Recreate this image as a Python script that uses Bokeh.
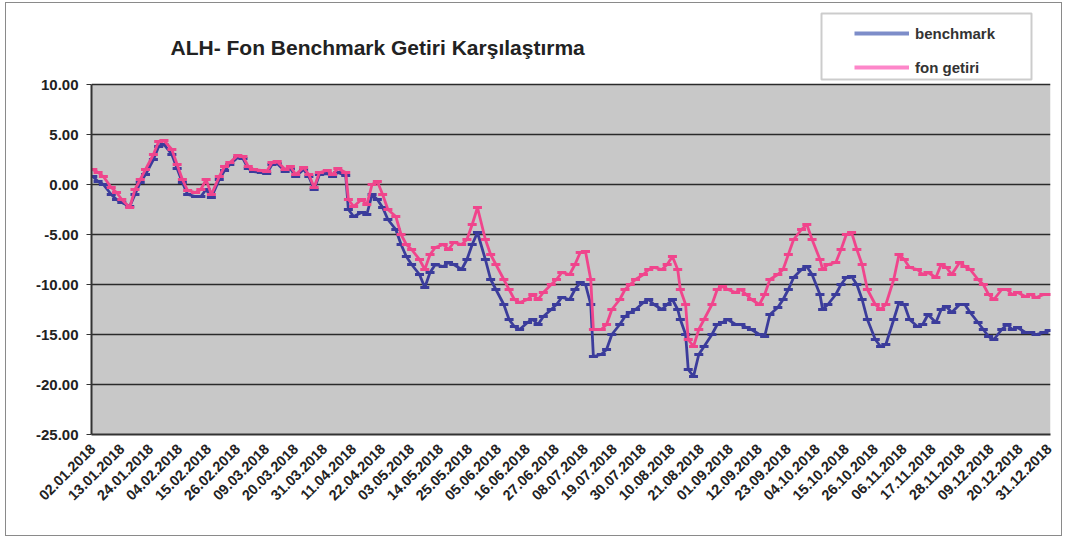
import pandas as pd
from bokeh.plotting import figure
from bokeh.models import (Range1d, FixedTicker, NumeralTickFormatter, DatetimeTickFormatter,
                          Legend, LegendItem, BoxAnnotation, ColumnDataSource, Label)
from bokeh.embed import file_html
from bokeh.resources import INLINE
import math

title_text = "ALH- Fon Benchmark Getiri Karşılaştırma"
series_names = ["benchmark", "fon getiri"]

dates = [
    "02.01.2018", "04.01.2018", "06.01.2018", "09.01.2018", "11.01.2018", "13.01.2018", "16.01.2018",
    "18.01.2018", "20.01.2018", "22.01.2018", "25.01.2018", "27.01.2018", "29.01.2018", "01.02.2018",
    "03.02.2018", "05.02.2018", "07.02.2018", "10.02.2018", "12.02.2018", "14.02.2018", "16.02.2018",
    "19.02.2018", "21.02.2018", "23.02.2018", "26.02.2018", "28.02.2018", "02.03.2018", "04.03.2018",
    "07.03.2018", "09.03.2018", "11.03.2018", "13.03.2018", "16.03.2018", "18.03.2018", "20.03.2018",
    "23.03.2018", "25.03.2018", "27.03.2018", "29.03.2018", "01.04.2018", "03.04.2018", "05.04.2018",
    "08.04.2018", "09.04.2018", "11.04.2018", "14.04.2018", "16.04.2018", "18.04.2018", "20.04.2018",
    "22.04.2018", "24.04.2018", "27.04.2018", "29.04.2018", "01.05.2018", "03.05.2018", "06.05.2018",
    "08.05.2018", "10.05.2018", "12.05.2018", "15.05.2018", "17.05.2018", "19.05.2018", "22.05.2018",
    "24.05.2018", "26.05.2018", "28.05.2018", "31.05.2018", "02.06.2018", "04.06.2018", "07.06.2018",
    "09.06.2018", "11.06.2018", "13.06.2018", "16.06.2018", "18.06.2018", "20.06.2018", "22.06.2018",
    "25.06.2018", "27.06.2018", "29.06.2018", "02.07.2018", "04.07.2018", "06.07.2018", "08.07.2018",
    "10.07.2018", "11.07.2018", "14.07.2018", "16.07.2018", "18.07.2018", "21.07.2018", "23.07.2018",
    "25.07.2018", "27.07.2018", "30.07.2018", "01.08.2018", "03.08.2018", "06.08.2018", "08.08.2018",
    "10.08.2018", "12.08.2018", "13.08.2018", "15.08.2018", "16.08.2018", "18.08.2018", "20.08.2018",
    "22.08.2018", "25.08.2018", "27.08.2018", "29.08.2018", "31.08.2018", "03.09.2018", "05.09.2018",
    "07.09.2018", "09.09.2018", "12.09.2018", "14.09.2018", "16.09.2018", "19.09.2018", "21.09.2018",
    "23.09.2018", "25.09.2018", "28.09.2018", "30.09.2018", "02.10.2018", "05.10.2018", "06.10.2018",
    "08.10.2018", "11.10.2018", "13.10.2018", "15.10.2018", "17.10.2018", "19.10.2018", "21.10.2018",
    "23.10.2018", "26.10.2018", "28.10.2018", "30.10.2018", "02.11.2018", "04.11.2018", "06.11.2018",
    "08.11.2018", "11.11.2018", "13.11.2018", "15.11.2018", "18.11.2018", "20.11.2018", "22.11.2018",
    "24.11.2018", "27.11.2018", "29.11.2018", "01.12.2018", "04.12.2018", "06.12.2018", "08.12.2018",
    "10.12.2018", "13.12.2018", "15.12.2018", "17.12.2018", "19.12.2018", "22.12.2018", "24.12.2018",
    "26.12.2018", "29.12.2018", "31.12.2018",
]

fon_getiri = [
    1.5, 1.2, 0.8, -0.3, -0.8, -1.5, -2.3,
    -0.5, 0.5, 1.5, 3.0, 4.3, 4.4, 3.5,
    2.0, 0.5, -0.6, -0.8, -0.5, 0.5, -1.0,
    0.8, 1.8, 2.2, 2.9, 2.8, 1.8, 1.5,
    1.4, 1.3, 2.2, 2.3, 1.5, 1.8, 1.0,
    1.7, 1.0, -0.3, 1.2, 1.4, 1.0, 1.6,
    1.2, -1.5, -2.2, -1.5, -2.0, 0.0, 0.3,
    -1.0, -2.5, -3.2, -5.0, -6.0, -6.5, -7.5,
    -8.5, -7.0, -6.3, -6.0, -6.5, -5.8, -6.0,
    -5.5, -4.0, -2.3, -5.5, -7.0, -8.0, -9.5,
    -10.5, -11.5, -11.8, -11.5, -11.0, -11.5, -10.8,
    -10.0, -9.5, -8.8, -9.0, -8.0, -6.8, -6.7,
    -9.5, -14.5, -14.5, -14.0, -12.5, -11.5, -10.5,
    -10.0, -9.5, -9.0, -8.5, -8.3, -8.5, -8.0,
    -7.2, -8.5, -10.5, -12.0, -15.5, -16.2, -14.5,
    -13.5, -12.0, -10.5, -10.2, -10.5, -10.8, -10.5,
    -11.0, -11.5, -12.0, -11.0, -9.5, -9.0, -8.5,
    -7.0, -5.5, -4.5, -4.0, -5.5, -7.5, -8.5,
    -8.0, -7.8, -6.5, -5.0, -4.8, -6.5, -8.0,
    -10.5, -12.0, -12.5, -12.0, -9.5, -7.0, -7.5,
    -8.3, -8.5, -9.0, -8.8, -9.3, -8.0, -8.3,
    -9.0, -7.8, -8.2, -8.5, -9.5, -10.0, -11.0,
    -11.5, -10.5, -10.5, -11.0, -10.8, -11.2, -11.0,
    -11.3, -11.0, -11.0,
]

benchmark = [
    0.8, 0.3, 0.0, -1.0, -1.5, -1.8, -2.2,
    -1.0, 0.2, 1.0, 2.5, 3.8, 4.0, 3.0,
    1.6, 0.2, -1.0, -1.2, -1.2, -0.5, -1.3,
    0.5, 1.4, 2.0, 2.7, 2.6, 1.6, 1.3,
    1.2, 1.1, 2.0, 2.1, 1.3, 1.6, 0.8,
    1.5, 0.8, -0.5, 1.0, 1.1, 0.8, 1.2,
    0.9, -2.5, -3.2, -2.8, -3.0, -1.0, -1.5,
    -2.3, -3.5, -4.5, -6.0, -7.2, -8.0, -9.0,
    -10.3, -8.8, -8.0, -8.2, -7.8, -8.0, -8.5,
    -7.5, -6.0, -4.8, -7.5, -9.5, -10.5, -12.0,
    -13.5, -14.2, -14.5, -13.8, -13.5, -14.0, -13.2,
    -12.5, -12.0, -11.3, -11.5, -10.5, -9.8, -10.0,
    -12.0, -17.2, -17.0, -16.5, -15.0, -14.0, -13.2,
    -12.8, -12.5, -11.8, -11.5, -12.0, -12.5, -12.0,
    -11.5, -12.5, -13.5, -15.0, -18.5, -19.2, -17.0,
    -16.2, -15.0, -14.0, -13.8, -13.5, -14.0, -14.0,
    -14.3, -14.5, -15.0, -15.2, -13.0, -12.3, -11.5,
    -10.5, -9.3, -8.5, -8.2, -9.0, -11.0, -12.5,
    -12.0, -11.0, -10.0, -9.3, -9.2, -10.0, -11.5,
    -13.5, -15.5, -16.2, -16.0, -13.5, -11.8, -12.0,
    -13.5, -14.2, -14.0, -13.0, -13.8, -12.5, -12.2,
    -12.8, -12.0, -12.0, -12.8, -13.8, -14.5, -15.2,
    -15.5, -14.5, -14.0, -14.5, -14.3, -14.8, -14.8,
    -15.0, -14.8, -14.6,
]

tick_labels = [
    "02.01.2018", "13.01.2018", "24.01.2018", "04.02.2018", "15.02.2018", "26.02.2018",
    "09.03.2018", "20.03.2018", "31.03.2018", "11.04.2018", "22.04.2018", "03.05.2018",
    "14.05.2018", "25.05.2018", "05.06.2018", "16.06.2018", "27.06.2018", "08.07.2018",
    "19.07.2018", "30.07.2018", "10.08.2018", "21.08.2018", "01.09.2018", "12.09.2018",
    "23.09.2018", "04.10.2018", "15.10.2018", "26.10.2018", "06.11.2018", "17.11.2018",
    "28.11.2018", "09.12.2018", "20.12.2018", "31.12.2018",
]
y_ticks = [-25, -20, -15, -10, -5, 0, 5, 10]

FONT = "Liberation Sans"
BLUE = "#3b3c9b"
PINK = "#f0458c"
BLUE_LEG = "#7d8dc9"
PINK_LEG = "#fd86c9"
PLOT_BG = "#c8c8c8"

x = pd.to_datetime(dates, format="%d.%m.%Y")
src = ColumnDataSource(dict(x=x, bench=benchmark, fon=fon_getiri))
tick_dt = pd.to_datetime(tick_labels, format="%d.%m.%Y")
tick_ms = [t.value / 1e6 for t in tick_dt]

y_lo, y_hi = min(y_ticks), max(y_ticks)
# frame extends above the top gridline so the title and legend sit inside it (not clipped)
frame_h = 431
px_per_unit = 10.0
y_top = y_lo + frame_h / px_per_unit

half_day = pd.Timedelta(hours=12)
p = figure(width=1057, height=534, x_axis_type="datetime",
           x_range=Range1d(tick_dt[0] - half_day, tick_dt[-1] + half_day),
           y_range=Range1d(y_lo, y_top),
           output_backend="svg", toolbar_location=None,
           min_border_left=85, min_border_right=13, min_border_top=0, min_border_bottom=103)
p.styles = {"border": "1px solid #8a8a8a", "margin-left": "5px", "margin-top": "2px"}

p.background_fill_color = "white"
p.border_fill_color = "white"
p.outline_line_color = None

# grey plot area only between the lowest and highest tick
p.add_layout(BoxAnnotation(bottom=y_lo, top=y_hi, fill_color=PLOT_BG, fill_alpha=1.0,
                           line_color=None, level="image"))

p.ygrid.ticker = FixedTicker(ticks=y_ticks)
p.ygrid.grid_line_color = "#2a2a2a"
p.ygrid.grid_line_width = 1.5
p.xgrid.grid_line_color = None

p.yaxis.ticker = FixedTicker(ticks=y_ticks)
p.yaxis.bounds = (y_lo, y_hi)
p.yaxis.formatter = NumeralTickFormatter(format="0.00")
p.yaxis.major_label_text_font = FONT
p.yaxis.major_label_text_font_size = "15px"
p.yaxis.major_label_text_font_style = "bold"
p.yaxis.major_label_text_color = "#222222"
p.yaxis.axis_line_color = "#333333"
p.yaxis.axis_line_width = 2
p.yaxis.major_tick_out = 5
p.yaxis.major_tick_in = 0
p.yaxis.major_tick_line_color = "#333333"
p.yaxis.minor_tick_line_color = None
p.yaxis.major_label_standoff = 8

fmt = "%d.%m.%Y"
p.xaxis.ticker = FixedTicker(ticks=tick_ms)
p.xaxis.formatter = DatetimeTickFormatter(milliseconds=fmt, seconds=fmt, minsec=fmt, minutes=fmt,
                                          hourmin=fmt, hours=fmt, days=fmt, months=fmt, years=fmt)
p.xaxis.major_label_orientation = math.pi / 4
p.xaxis.major_label_text_font = FONT
p.xaxis.major_label_text_font_size = "14.5px"
p.xaxis.major_label_text_font_style = "bold"
p.xaxis.major_label_text_color = "#222222"
p.xaxis.axis_line_color = "#333333"
p.xaxis.axis_line_width = 2
p.xaxis.major_tick_line_color = None
p.xaxis.minor_tick_line_color = None
p.xaxis.major_label_standoff = 6

# data
p.line("x", "bench", source=src, line_color=BLUE, line_width=2.8)
p.scatter("x", "bench", source=src, marker="dash", size=9, line_color=BLUE, line_width=2.8)
p.line("x", "fon", source=src, line_color=PINK, line_width=2.8)
p.scatter("x", "fon", source=src, marker="dash", size=9, line_color=PINK, line_width=2.8)

# title
p.add_layout(Label(x=79, y=387, x_units="screen", y_units="screen", text=title_text,
                   text_font=FONT, text_font_size="21px", text_font_style="bold",
                   text_color="#222222", text_baseline="middle", text_align="left"))

# legend: single-point sources (draw nothing in the plot) with lighter legend colours
leg_b = ColumnDataSource(dict(x=x[:1], y=benchmark[:1]))
leg_f = ColumnDataSource(dict(x=x[:1], y=fon_getiri[:1]))
r_b = p.line("x", "y", source=leg_b, line_color=BLUE_LEG, line_width=4)
r_f = p.line("x", "y", source=leg_f, line_color=PINK_LEG, line_width=4)
box = BoxAnnotation(left=730, right=940, bottom=355, top=421,
                    left_units="screen", right_units="screen", bottom_units="screen", top_units="screen",
                    fill_color="white", fill_alpha=1.0, line_color="#555555", line_width=2)
p.add_layout(box)
legend = Legend(items=[LegendItem(label=series_names[0], renderers=[r_b]),
                       LegendItem(label=series_names[1], renderers=[r_f])],
                location=(763, 357), padding=4, margin=0, spacing=14,
                glyph_width=55, glyph_height=20, label_height=20, label_standoff=6,
                label_text_font=FONT, label_text_font_size="15px", label_text_font_style="bold",
                label_text_color="#333333", border_line_color=None, background_fill_alpha=0)
p.add_layout(legend)

open("out.html", "w").write(file_html(p, INLINE))
